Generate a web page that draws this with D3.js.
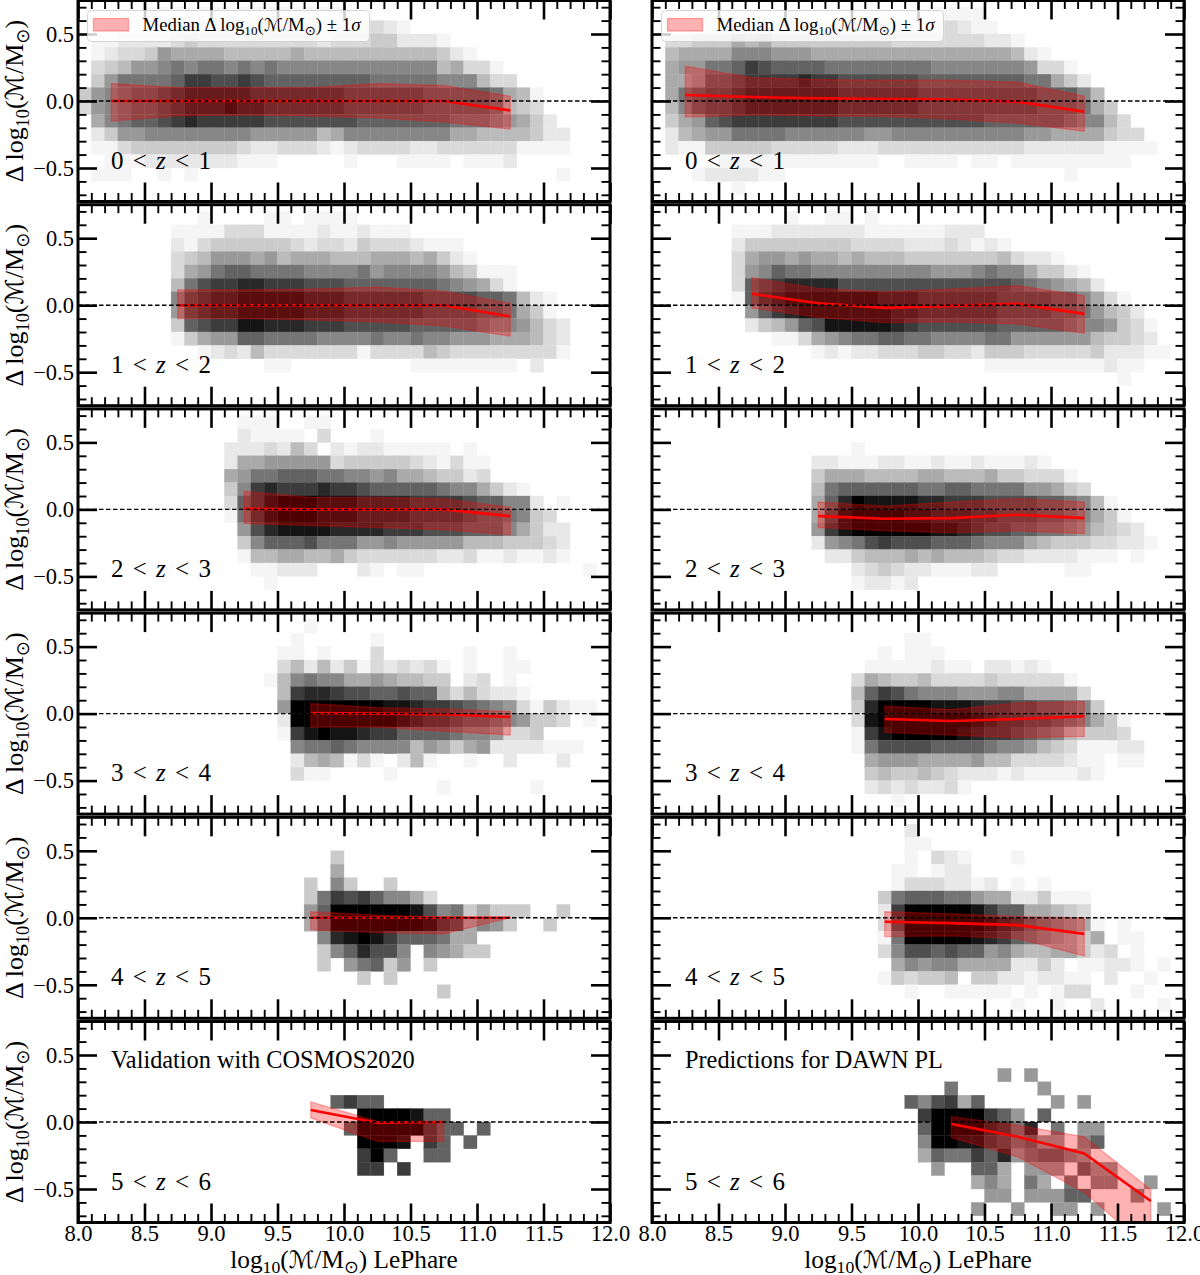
<!DOCTYPE html>
<html>
<head>
<meta charset="utf-8">
<script src="https://cdn.jsdelivr.net/npm/d3@7"></script>
<style>
  html, body { margin: 0; padding: 0; background: #fff; }
  svg text { font-family: "Liberation Serif", serif; fill: #000; }
</style>
</head>
<body>
<div id="chart"></div>
<script>
// histogram rows, top row is 0.7..0.6, each char is a grey level (hex), a column is 0.1 dex from 8.0
const histL1 = ["0000011111 1111111111","0011111222 2222222222 2232100000","0112222343 3333333323 3344222100","0123347666 6555556555 5555555421","0345778989 9898988888 8888888563 31","0479999acc bbcbaaaaaa aa99999888 533","4789aabcdd dddccccccc bbbbbbaaaa a96510","3789aabcdd deddcccccc bbbbbbaaaa a95430","0689aabcdc ccccbbbbbb baaaaaaa99 987642","0247788888 8887777756 8888888866 5555422","0113444444 4432233321 2333322333 3331111","0011122222 2211100000 1000111101 112","0111001010 0000000000 0000000000 0000001",""];
const histR1 = ["0000000000 0000000000 0111100000","0000112222 2222222222 2232110000","0334446564 4444444433 3333322100","0566668887 7766666666 6666666521","067799acba aaa9999999 9888888873 31","0667aabccc cdccbbbbbb aaaaaaaa99 642","069abbcddd ddddcccccc bbbbbbbbba aa85","058abbcddd ddddcccccc bbbbbbbbba aa964","0467abcccc ccccbbbbbb bbbbbaaaaa a98853","0256779999 8888887788 8888888877 6666433","0211444443 3333222333 3333333322 22221111","0000011111 1111111001 1110110111 111111","0001222211 0000000000 0000000000 01","0000001"];
const histL2 = ["0000000001 0000110111 1","0000000111 1333111121 12111","0000000213 4444443233 2433321110","0000000345 7776756665 5566656421","0000000367 9aa9999888 8978888754 111","000000059b ccddcccbbb aaaaaaa987 631","00000008bc ddeeeeeddd ccccccbbbb aa9521","00000007bc ddeeeeeddd ccccccbbbb aa9641","00000004ab cceedddccc bbbbbaaaaa 9887532","0000000146 77aa999988 8898898877 7666532","0000000001 2325333333 3133335433 3333331","0000000000 0000110000 0000011111 11102","",""];
const histR2 = ["0000000000 1001101000","0000001112 2222221111 11222","0000002444 4444433332 2232121","0000003677 6766565554 4444445322 1","000000378a 9988888888 8777898864 421","0000003abc ddddbbbbbb bbbbbbba98 7652","0000001acd eeeeeeeddd ccccccbbbb aa8631","00000007ac deeeeeeedd ccccccbbbb aa97542","0000000245 7abeeeeedc bbbbbbaaaa a9887431","0000000001 1367899aa9 9888899777 77754432","0000000000 0012122333 4433244433 333422211","0000000000 0000000000 0000011111 1111211","0000000000 0000000000 0000000000 000001",""];
const histL3 = ["0000000000 0011100110","0000000000 0021111030 001","0000000000 0222325302 1221111101","0000000000 0266777773 4444432131 1","0000000000 06799aaa99 8878665442 3","0000000000 048cdcccdc cbaaaaa988 6421","0000000000 03acefffee eddddccccb aa88201","0000000000 019cefffee eddddccccb aa9843","0000000000 007bdeeeed dddcccbbba aa86422","0000000000 0048aaab99 9778777775 5544432","0000000000 0015566556 4333333223 1121121","0000000000 0001122200 0210110000 000000001","0000000000 0000100000",""];
const histR3 = ["","","0000000000 0000010000","0000000000 0022111221 1211211121","0000000000 0046665555 6655564433 31","0000000000 0059aaaaaa 99aa999977 643","0000000000 006adfeeee ddcccbbbba a9851","0000000000 006beffffe edddccbbba a98641","0000000000 007cefffff feedcbbaa9 9875432","0000000000 002789bcbb baaa988865 44433221","0000000000 0002245556 5655543322 2211101","0000000000 0000023432 2111220000 011","0000000000 0000012212",""];
const histL4 = ["0000000000 0000000100","0000000000 0000001000 0010000000","0000000000 0000011010 0030000001 001","0000000000 0000035252 4132323101 0011","0000000000 0000158988 6676554402 301","0000000000 000005cddc bbaabaa535 3221","0000000000 000007ffff fffeedccba 987314211","0000000000 000002ffff ffffedccba a98744301","0000000000 000001cefe edccaaaa98 87334","0000000000 000000899a 9888857646 72222111","0000000000 0000002565 1310251001 0020002","0000000000 0000003110 0001000000","0000000000 0000000000 0000000100 00001",""];
const histR4 = ["","0000000000 0000000001 1","0000000000 0000000101 11","0000000000 0000001111 1211022121","0000000000 0000036544 5333343333 31","0000000000 000005acb9 8887778866 663","0000000000 000004dfff feeedccbba a984","0000000000 000003efff ffffedccbb a98641","0000000000 000001ceff fffedccba9 854443","0000000000 0000019bbb baaaa98875 4311122","0000000000 0000006777 6666755333 3211011","0000000000 0000004544 5432221211 1121","0000000000 0000002323 2231","0000000000 0000000010"];
const histL5 = ["","","0000000000 0000000004","0000000000 0000000006","0000000000 0000000408 4004","0000000000 000000049c bca8863","0000000000 00000007af fffffeb894 6444004","0000000000 00000006af ffffffecb6 874004","0000000000 000000008d efecaaa966","0000000000 0000000048 adbb808764 4","0000000000 0000000040 79a4704","0000000000 0000000000 0404","0000000000 0000000000 0000000400",""];
const histR5 = ["0000000000 0000000002","0000000000 0000000001 1","0000000000 0000000001 03210001","0000000000 0000000011 0122","0000000000 0000000013 3322120101","0000000000 000000049a aa99766224 111","0000000000 00000002cf ffffecaa66 543","0000000000 00000003bf fffffedca9 876101","0000000000 000000019f ffffedca98 7646011","0000000000 000000038b babaa78655 6642301","0000000000 0000000068 7886666224 201122101","0000000000 0000000143 4450442212 21102001","0000000000 0000000001 0011111010 1330001","0000000000 0000000000 0000000100 100200001"];
const histL6 = ["","","","","","0000000000 000000000a caa","0000000000 0000000000 0ffffeaa","0000000000 0000000000 afffffcaa0 a","0000000000 0000000000 0fffe0ca0a","0000000000 0000000000 0cfa00aa","0000000000 0000000000 0cc0c","","",""];
const histR6 = ["","","","0000000000 0000000000 0000007070","0000000000 0000000000 0090000007","0000000000 000000000a 8bc6a00000 707","0000000000 0000000000 cffffca70a","0000000000 0000000000 affffdc9d0 9077","0000000000 0000000000 8ffeecb9a7 708a","0000000000 0000000000 6a99cad79a a87","0000000000 0000000000 0700aa6077 70a77","0000000000 0000000000 0000686096 09088007","0000000000 0000000000 0000077077 7aa0008","0000000000 0000000000 0000700700 770700007"];

// mass bin centres
const massFrom825 = [8.25, 8.75, 9.25, 9.75, 10.25, 10.75, 11.25];
const massFrom875 = [8.75, 9.25, 9.75, 10.25, 10.75, 11.25];
const massFrom925 = [9.25, 9.75, 10.25, 10.75, 11.25];
const massFrom975 = [9.75, 10.25, 10.75, 11.25];
const massVal6 = [9.75, 10.25, 10.75];
const massPred6 = [10.25, 10.75, 11.25, 11.75];

// median and +/- 1 sigma edges
const medL1 = [0, 0, 0, 0, 0, 0, -0.07];
const upL1 = [0.13, 0.10, 0.10, 0.10, 0.13, 0.115, 0.035];
const loL1 = [-0.15, -0.11, -0.105, -0.11, -0.125, -0.155, -0.21];
const medR1 = [0.045, 0.03, 0.02, 0.015, 0.01, -0.005, -0.08];
const upR1 = [0.26, 0.175, 0.16, 0.155, 0.155, 0.14, 0.035];
const loR1 = [-0.12, -0.105, -0.11, -0.115, -0.135, -0.165, -0.225];
const medL2 = [0, 0, 0, 0, 0, -0.085];
const upL2 = [0.115, 0.115, 0.12, 0.135, 0.105, 0.015];
const loL2 = [-0.10, -0.10, -0.11, -0.125, -0.155, -0.23];
const medR2 = [0.085, 0.015, -0.02, -0.005, 0.01, -0.065];
const upR2 = [0.205, 0.125, 0.10, 0.12, 0.145, 0.07];
const loR2 = [-0.02, -0.09, -0.13, -0.125, -0.14, -0.21];
const medL3 = [0.005, 0, 0, 0, -0.05];
const upL3 = [0.135, 0.09, 0.09, 0.08, 0.015];
const loL3 = [-0.105, -0.12, -0.135, -0.15, -0.19];
const medR3 = [-0.05, -0.07, -0.065, -0.04, -0.065];
const upR3 = [0.055, 0.025, 0.055, 0.08, 0.055];
const loR3 = [-0.135, -0.16, -0.175, -0.16, -0.18];
const medL4 = [0.005, 0, -0.005, -0.025];
const upL4 = [0.075, 0.045, 0.035, 0.015];
const loL4 = [-0.10, -0.10, -0.13, -0.16];
const medR4 = [-0.04, -0.055, -0.04, -0.02];
const upR4 = [0.055, 0.03, 0.08, 0.09];
const loR4 = [-0.14, -0.16, -0.18, -0.17];
const medL5 = [0, 0, 0, 0];
const upL5 = [0.045, 0.02, 0.005, 0];
const loL5 = [-0.09, -0.11, -0.12, 0];
const medR5 = [-0.03, -0.04, -0.055, -0.12];
const upR5 = [0.045, 0.03, 0.01, 0];
const loR5 = [-0.14, -0.135, -0.155, -0.285];
const medL6 = [0.09, -0.005, 0];
const upL6 = [0.15, 0.005, 0];
const loL6 = [0.03, -0.145, -0.145];
const medR6 = [-0.015, -0.11, -0.235, -0.59];
const upR6 = [0.04, -0.025, -0.11, -0.505];
const loR6 = [-0.115, -0.26, -0.525, -0.96];

const redshifts = ["0", "1", "2", "3", "4", "5", "6"];
const xMajor = [8.0, 8.5, 9.0, 9.5, 10.0, 10.5, 11.0, 11.5, 12.0];
const yMajor = [-0.5, 0.0, 0.5];
const legendLabel = "Median";
const bottomLabels = ["Validation with COSMOS2020", "Predictions for DAWN PL"];

const panels = [
  [histL1, massFrom825, medL1, upL1, loL1], [histR1, massFrom825, medR1, upR1, loR1],
  [histL2, massFrom875, medL2, upL2, loL2], [histR2, massFrom875, medR2, upR2, loR2],
  [histL3, massFrom925, medL3, upL3, loL3], [histR3, massFrom925, medR3, upR3, loR3],
  [histL4, massFrom975, medL4, upL4, loL4], [histR4, massFrom975, medR4, upR4, loR4],
  [histL5, massFrom975, medL5, upL5, loL5], [histR5, massFrom975, medR5, upR5, loR5],
  [histL6, massVal6, medL6, upL6, loL6], [histR6, massPred6, medR6, upR6, loR6]
];

const width = 1200, height = 1275;
const panelW = 532, panelH = 201;
const colX = [78, 652];
const rowPitch = 204.2, firstTop = 0.5;
const binSize = 0.1;

const svg = d3.select("#chart").append("svg")
  .attr("width", width).attr("height", height)
  .style("display", "block");

const x = d3.scaleLinear().domain([8, 12]).range([0, panelW]);
const y = d3.scaleLinear().domain([-0.75, 0.75]).range([panelH, 0]);
const grey = d3.scalePow().exponent(1.2).domain([0, 15]).range(["#ffffff", "#000000"]);

const xMinor = d3.range(81, 120).map(d => d / 10).filter(d => !xMajor.includes(d));
const yMinor = d3.range(-7, 8).map(d => d / 10).filter(d => !yMajor.includes(d));

const area = d3.area().x(d => x(d.m)).y0(d => y(d.lo)).y1(d => y(d.up));
const line = d3.line().x(d => x(d.m)).y(d => y(d.med));

// writes log10(M/Msun) as tspans, size is the main font size
function massText(sel, size) {
  const sub = size * 0.7;
  sel.append("tspan").text("log");
  sel.append("tspan").attr("font-size", sub).attr("dy", size * 0.22).text("10");
  sel.append("tspan").attr("dy", -size * 0.22).text("(");
  sel.append("tspan").attr("font-family", "DejaVu Sans").attr("font-style", "italic").attr("font-size", size * 0.95).text("\u2133");
  sel.append("tspan").text("/M");
  sel.append("tspan").attr("font-family", "DejaVu Sans").attr("font-size", sub).attr("dy", size * 0.22).text("\u2299");
  sel.append("tspan").attr("dy", -size * 0.22).text(")");
}

function zText(sel, lo, hi) {
  sel.append("tspan").text(lo + " < ");
  sel.append("tspan").attr("font-style", "italic").text("z");
  sel.append("tspan").text(" < " + hi);
}

function drawAxis(g, axis, size, label, pad) {
  const a = g.append("g").call(axis.tickSize(size).tickPadding(pad).tickFormat(label ? d3.format(".1f") : ""));
  a.select(".domain").remove();
  a.selectAll("line").attr("stroke", "#000").attr("stroke-width", size < -10 ? 2.6 : 1.9);
  a.selectAll("text").attr("font-size", 22.5).attr("font-family", "Liberation Serif");
  return a;
}

panels.forEach((p, i) => {
  const col = i % 2, row = Math.floor(i / 2);
  const [hist, mass, med, up, lo] = p;
  const g = svg.append("g").attr("transform", `translate(${colX[col]},${firstTop + row * rowPitch})`);

  const clipId = "clip" + i;
  g.append("clipPath").attr("id", clipId).append("rect").attr("width", panelW).attr("height", panelH);
  const plot = g.append("g").attr("clip-path", `url(#${clipId})`);

  // 2d histogram cells
  const cells = [];
  hist.forEach((r, ri) => {
    r.replace(/ /g, "").split("").forEach((ch, ci) => {
      const level = parseInt(ch, 16);
      if (level > 0) cells.push({ m: 8 + ci * binSize, d: 0.7 - ri * binSize, level: level });
    });
  });
  plot.selectAll("rect.cell").data(cells).enter().append("rect")
    .attr("class", "cell")
    .attr("x", d => x(d.m))
    .attr("y", d => y(d.d))
    .attr("width", d => x(d.m + binSize) - x(d.m))
    .attr("height", d => y(d.d - binSize) - y(d.d))
    .attr("fill", d => grey(d.level))
    .attr("stroke", d => grey(d.level))
    .attr("stroke-width", 0.3);

  const rows = mass.map((m, k) => ({ m: m, med: med[k], up: up[k], lo: lo[k] }));
  plot.append("path").datum(rows).attr("d", area)
    .attr("fill", "#ff0000").attr("fill-opacity", 0.3)
    .attr("stroke", "#ff0000").attr("stroke-opacity", 0.3).attr("stroke-width", 1.3);
  plot.append("path").datum(rows).attr("d", line)
    .attr("fill", "none").attr("stroke", "#ff0000").attr("stroke-width", 2.6);

  plot.append("line")
    .attr("x1", x(8)).attr("x2", x(12)).attr("y1", y(0)).attr("y2", y(0))
    .attr("stroke", "#000").attr("stroke-width", 1.4).attr("stroke-dasharray", "4.5,2.5");

  // ticks on all four sides, pointing in
  const isBottom = row === 5, isLeft = col === 0;
  drawAxis(g.append("g").attr("transform", `translate(0,${panelH})`), d3.axisBottom(x).tickValues(xMajor), -19, isBottom, 3);
  drawAxis(g.append("g").attr("transform", `translate(0,${panelH})`), d3.axisBottom(x).tickValues(xMinor), -8.5, false, 4);
  drawAxis(g.append("g"), d3.axisTop(x).tickValues(xMajor), -19, false, 4);
  drawAxis(g.append("g"), d3.axisTop(x).tickValues(xMinor), -8.5, false, 4);
  drawAxis(g.append("g"), d3.axisLeft(y).tickValues(yMajor), -19, isLeft, 4);
  drawAxis(g.append("g"), d3.axisLeft(y).tickValues(yMinor), -8.5, false, 4);
  drawAxis(g.append("g").attr("transform", `translate(${panelW},0)`), d3.axisRight(y).tickValues(yMajor), -19, false, 4);
  drawAxis(g.append("g").attr("transform", `translate(${panelW},0)`), d3.axisRight(y).tickValues(yMinor), -8.5, false, 4);

  g.append("rect").attr("width", panelW).attr("height", panelH)
    .attr("fill", "none").attr("stroke", "#000").attr("stroke-width", 3);

  g.append("text").attr("x", 33).attr("y", 168).attr("font-size", 25).attr("word-spacing", 3)
    .call(zText, redshifts[row], redshifts[row + 1]);

  if (isLeft) {
    const yl = g.append("text")
      .attr("transform", `translate(-55,${panelH / 2}) rotate(-90)`)
      .attr("text-anchor", "middle").attr("font-size", 26);
    yl.append("tspan").text("\u0394 ");
    yl.call(massText, 26);
  }

  if (isBottom) {
    const xl = g.append("text")
      .attr("x", panelW / 2).attr("y", panelH + 45)
      .attr("text-anchor", "middle").attr("font-size", 25.3);
    xl.call(massText, 25.3);
    xl.append("tspan").text(" LePhare");
    g.append("text").attr("x", 33).attr("y", 46).attr("font-size", 24.3).text(bottomLabels[col]);
  }

  if (row === 0) {
    const leg = g.append("g").attr("transform", "translate(9.5,10)");
    leg.append("rect").attr("width", 282).attr("height", 31).attr("rx", 4)
      .attr("fill", "#fff").attr("fill-opacity", 0.8)
      .attr("stroke", "#cccccc").attr("stroke-opacity", 0.8).attr("stroke-width", 1);
    leg.append("rect").attr("x", 6).attr("y", 8).attr("width", 35).attr("height", 12.5)
      .attr("fill", "#ff0000").attr("fill-opacity", 0.3)
      .attr("stroke", "#ff0000").attr("stroke-opacity", 0.3).attr("stroke-width", 1.3);
    const lt = leg.append("text").attr("x", 55).attr("y", 20).attr("font-size", 18.8);
    lt.append("tspan").text(legendLabel + " \u0394 ");
    lt.call(massText, 18.8);
    lt.append("tspan").text(" \u00b1 1");
    lt.append("tspan").attr("font-style", "italic").text("\u03c3");
  }
});
</script>
</body>
</html>
